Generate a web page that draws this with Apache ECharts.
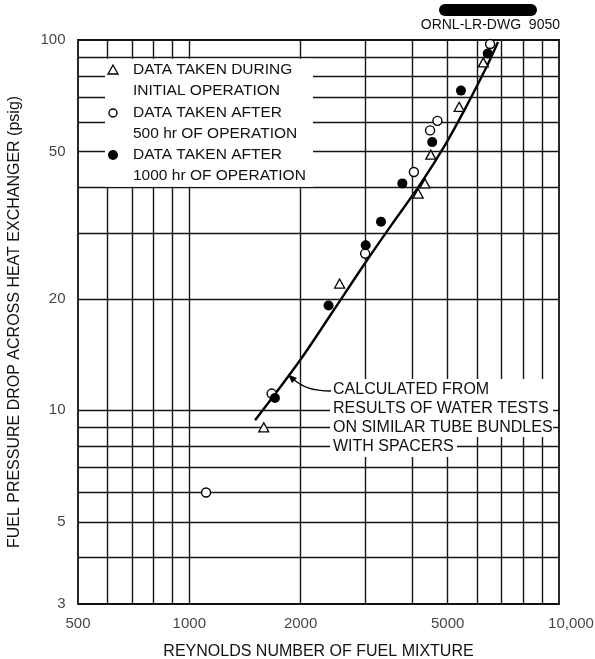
<!DOCTYPE html>
<html><head><meta charset="utf-8">
<script src="https://cdn.jsdelivr.net/npm/echarts@6/dist/echarts.min.js"></script>
<style>html,body{margin:0;padding:0;background:#fff}#c{width:595px;height:659px}</style>
</head><body><div id="c"></div>
<script>
// ---- data ----
const xMin = 500, xMax = 10000, yMin = 3, yMax = 100;
const xTickValues = [500, 1000, 2000, 5000, 10000];
const xTickLabels = ['500', '1000', '2000', '5000', '10,000'];
const yTickValues = [3, 5, 10, 20, 50, 100];
const yTickLabels = ['3', '5', '10', '20', '50', '100'];
const xGridValues = [600, 700, 800, 900, 1000, 2000, 3000, 4000, 5000, 6000, 7000, 8000, 9000];
const yGridValues = [4, 5, 6, 7, 8, 9, 10, 20, 30, 40, 50, 60, 70, 80, 90];

// Data taken during initial operation (triangles)
const initialRe = [1590, 2550, 4160, 4340, 4500, 5370, 6240];
const initialDp = [9.0, 22.0, 38.5, 41.0, 49.0, 66.0, 87.0];
// Data taken after 500 hr (open circles)
const after500Re = [1110, 1670, 2990, 4050, 4480, 4690, 6510];
const after500Dp = [6.0, 11.1, 26.5, 44.0, 57.0, 60.5, 97.5];
// Data taken after 1000 hr (filled circles)
const after1000Re = [1705, 2380, 3000, 3300, 3770, 4540, 5430, 6415];
const after1000Dp = [10.8, 19.2, 27.9, 32.3, 41.0, 53.0, 73.0, 92.0];
// Calculated curve from water tests
const calcRe = [1506, 1993, 2447, 2987, 3535, 4234, 4917, 5605, 6346, 6840];
const calcDp = [9.40, 13.65, 18.52, 24.96, 31.82, 41.07, 52.02, 65.93, 84.0, 98.8];

const legendLines = [
  ['DATA TAKEN DURING', 'INITIAL OPERATION'],
  ['DATA TAKEN AFTER', '500 hr OF OPERATION'],
  ['DATA TAKEN AFTER', '1000 hr OF OPERATION']
];
const noteLines = ['CALCULATED FROM', 'RESULTS OF WATER TESTS', 'ON SIMILAR TUBE BUNDLES', 'WITH SPACERS'];
const xTitle = 'REYNOLDS NUMBER OF FUEL MIXTURE';
const yTitle = 'FUEL PRESSURE DROP ACROSS HEAT EXCHANGER (psig)';
const drawingNo = 'ORNL-LR-DWG  9050';

// ---- chart ----
const FONT = '"Liberation Sans", Arial, sans-serif';
const INK = '#111';
const pairs = (a, b) => a.map((v, i) => [v, b[i]]);
const chart = echarts.init(document.getElementById('c'), null, {renderer: 'canvas'});

const gridLineStyle = {color: '#151515', width: 1.4, type: 'solid'};
const option = {
  animation: false,
  backgroundColor: '#fff',
  grid: {left: 78, top: 40, right: 36, bottom: 55, show: true, borderColor: INK, borderWidth: 1.8,
    backgroundColor: 'transparent', containLabel: false, outerBoundsMode: 'none'},
  xAxis: {
    type: 'log', logBase: 10, min: xMin, max: xMax,
    axisLine: {show: false}, axisTick: {show: false}, axisLabel: {show: false}, splitLine: {show: false},
    name: xTitle, nameLocation: 'middle', nameGap: 40,
    nameTextStyle: {fontFamily: FONT, fontSize: 16, color: INK}
  },
  yAxis: {
    type: 'log', logBase: 10, min: yMin, max: yMax,
    axisLine: {show: false}, axisTick: {show: false}, axisLabel: {show: false}, splitLine: {show: false},
    name: yTitle, nameLocation: 'middle', nameGap: 55,
    nameTextStyle: {fontFamily: FONT, fontSize: 16, color: INK}
  },
  series: [
    {
      type: 'line', name: 'gridlines', data: [], silent: true, z: 1,
      markLine: {
        silent: true, symbol: 'none', animation: false,
        label: {show: false}, lineStyle: gridLineStyle, emphasis: {disabled: true},
        data: xGridValues.map(v => ({xAxis: v})).concat(yGridValues.map(v => ({yAxis: v})))
      }
    },
    {
      type: 'line', name: 'Calculated from water tests', data: pairs(calcRe, calcDp),
      smooth: 0.35, symbol: 'none', z: 3,
      lineStyle: {color: '#000', width: 2.4}
    },
    {
      type: 'scatter', name: 'Initial operation', data: pairs(initialRe, initialDp), z: 5,
      symbol: 'triangle', symbolSize: [10, 9],
      itemStyle: {color: '#fff', borderColor: '#000', borderWidth: 1.3, opacity: 1}
    },
    {
      type: 'scatter', name: 'After 500 hr', data: pairs(after500Re, after500Dp), z: 5,
      symbol: 'circle', symbolSize: 9,
      itemStyle: {color: '#fff', borderColor: '#000', borderWidth: 1.4, opacity: 1}
    },
    {
      type: 'scatter', name: 'After 1000 hr', data: pairs(after1000Re, after1000Dp), z: 5,
      symbol: 'circle', symbolSize: 10,
      itemStyle: {color: '#000', borderColor: '#000', borderWidth: 0, opacity: 1}
    },
    {
      type: 'scatter', name: 'xticks', silent: true, clip: false, z: 6,
      data: xTickValues.map((v, i) => ({
        value: [v, yMin], name: xTickLabels[i],
        label: i === xTickValues.length - 1 ? {offset: [12, 0]} : {}
      })),
      symbolSize: 1, itemStyle: {color: 'rgba(0,0,0,0)'},
      label: {show: true, position: 'bottom', distance: 12, formatter: '{b}', fontFamily: FONT, fontSize: 15, color: INK}
    },
    {
      type: 'scatter', name: 'yticks', silent: true, clip: false, z: 6,
      data: yTickValues.map((v, i) => ({value: [xMin, v], name: yTickLabels[i]})),
      symbolSize: 1, itemStyle: {color: 'rgba(0,0,0,0)'},
      label: {show: true, position: 'left', distance: 12, formatter: '{b}', fontFamily: FONT, fontSize: 15, color: INK}
    }
  ],
  graphic: {elements: buildGraphics()}
};

function buildGraphics() {
  const els = [];
  // legend backdrop
  els.push({type: 'rect', z: 50, shape: {x: 105, y: 58.8, width: 208, height: 128}, style: {fill: '#fff'}});
  const lx = 113, tx = 133, rows = [70, 113, 155], dy = 21;
  els.push({type: 'polygon', z: 52, shape: {points: [[lx, rows[0] - 5], [lx - 5, rows[0] + 4], [lx + 5, rows[0] + 4]]}, style: {fill: '#fff', stroke: '#000', lineWidth: 1.3}});
  els.push({type: 'circle', z: 52, shape: {cx: lx, cy: rows[1], r: 4}, style: {fill: '#fff', stroke: '#000', lineWidth: 1.4}});
  els.push({type: 'circle', z: 52, shape: {cx: lx, cy: rows[2], r: 5}, style: {fill: '#000'}});
  legendLines.forEach((ls, i) => {
    ls.forEach((t, j) => {
      els.push({type: 'text', z: 52, x: tx, y: rows[i] + j * dy,
        style: {text: t, font: '15.5px ' + FONT, fill: INK, textAlign: 'left', textVerticalAlign: 'middle'}});
    });
  });
  // note backdrop
  els.push({type: 'rect', z: 50, shape: {x: 330, y: 379, width: 223, height: 58}, style: {fill: '#fff'}});
  els.push({type: 'rect', z: 50, shape: {x: 330, y: 437, width: 127, height: 20}, style: {fill: '#fff'}});
  noteLines.forEach((t, j) => {
    els.push({type: 'text', z: 52, x: 333, y: 390 + j * 19,
      style: {text: t, font: '16px ' + FONT, fill: INK, textAlign: 'left', textVerticalAlign: 'middle'}});
  });
  // leader arrow
  els.push({type: 'bezierCurve', z: 52, shape: {x1: 331, y1: 391, cpx1: 312, cpy1: 391, cpx2: 302, cpy2: 387, x2: 292, y2: 378},
    style: {stroke: '#000', lineWidth: 1.3, fill: null}});
  els.push({type: 'polygon', z: 52, shape: {points: [[288, 374.5], [297, 378], [292, 383]]}, style: {fill: '#000'}});
  // drawing number & redaction mark
  els.push({type: 'rect', z: 52, shape: {x: 439, y: 4, width: 98, height: 12, r: 6}, style: {fill: '#000'}});
  els.push({type: 'text', z: 52, x: 560, y: 25,
    style: {text: drawingNo, font: '14px ' + FONT, fill: INK, textAlign: 'right', textVerticalAlign: 'middle'}});
  return els;
}

chart.setOption(option);
</script>
</body></html>
